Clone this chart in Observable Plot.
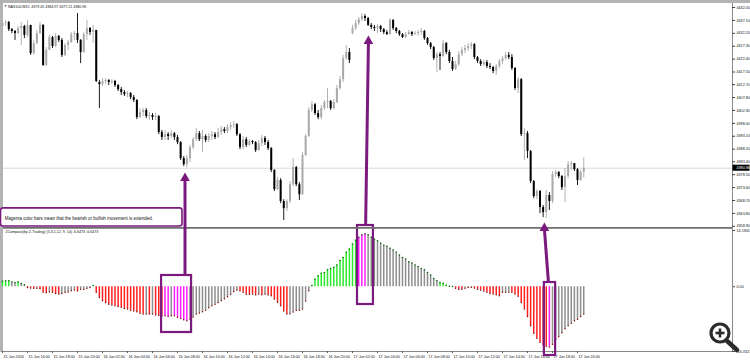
<!DOCTYPE html>
<html><head><meta charset="utf-8">
<script src="https://cdn.jsdelivr.net/npm/d3@7"></script>
<script src="https://cdn.jsdelivr.net/npm/@observablehq/plot@0.6"></script>
<style>
html,body{margin:0;padding:0;background:#fff;}
#wrap{position:relative;width:750px;height:362px;overflow:hidden;background:#fff;}
#wrap svg.plot-layer{position:absolute;left:0;}
#chromeTop{position:absolute;left:0;top:0;width:750px;height:3px;background:#b3b3b3;}
#chromeLeft{position:absolute;left:0;top:0;width:3px;height:352px;background:#b3b3b3;}
</style></head><body>
<div id="wrap"><div id="chromeTop"></div><div id="chromeLeft"></div></div>
<script>
// ---------- DATA (NAS100, M15) ----------
const symbolHeader = "NAS100,M15  4379.45 4384.97 4377.21 4380.96";
const opens = [4434.8,4435.9,4436.3,4433.6,4432.9,4432.1,4434.0,4434.8,4431.4,4435.2,
4424.5,4428.3,4432.1,4435.2,4420.0,4425.7,4430.6,4427.2,4431.0,4429.5,
4423.8,4427.6,4428.7,4431.7,4432.1,4429.5,4424.9,4431.7,4434.0,4432.5,
4433.3,4413.5,4412.7,4413.9,4414.3,4413.5,4413.9,4412.4,4410.8,4409.7,
4408.9,4409.3,4407.8,4406.7,4400.2,4402.1,4402.9,4400.6,4401.0,4400.2,
4400.6,4394.5,4392.6,4393.7,4393.0,4394.1,4392.6,4390.7,4384.6,4382.3,
4384.6,4388.8,4391.8,4394.1,4391.8,4393.0,4391.5,4393.0,4393.7,4392.6,
4394.5,4395.6,4394.9,4396.4,4397.2,4397.5,4393.7,4388.8,4391.8,4389.6,
4391.1,4390.7,4387.7,4390.3,4392.2,4390.7,4388.4,4380.1,4372.8,4376.3,
4368.3,4365.6,4368.3,4374.7,4381.2,4374.7,4370.9,4385.8,4393.0,4402.9,
4405.1,4401.7,4400.2,4403.6,4405.9,4406.3,4403.6,4405.9,4411.2,4414.6,
4422.6,4424.9,4432.1,4434.0,4435.9,4437.4,4438.6,4437.8,4435.2,4434.4,
4434.0,4434.8,4433.6,4432.5,4431.7,4437.1,4434.0,4432.9,4431.7,4430.6,
4431.7,4432.5,4431.7,4432.1,4432.5,4432.9,4430.2,4428.3,4426.8,4422.6,
4424.1,4423.4,4428.3,4424.9,4421.5,4418.4,4420.3,4424.1,4425.7,4426.4,
4427.2,4427.9,4423.0,4421.5,4420.3,4421.1,4419.6,4419.2,4417.7,4419.6,
4421.5,4422.6,4423.8,4423.0,4418.8,4411.2,4414.6,4393.7,4394.1,4387.3,
4375.9,4370.2,4372.1,4366.0,4364.1,4370.6,4368.3,4378.5,4379.3,4377.8,
4373.6,4377.8,4382.3,4382.7,4380.4,4376.3,4379.45];
const highs = [4437.1,4437.1,4436.7,4434.0,4433.3,4434.8,4436.3,4435.2,4437.1,4435.2,
4429.5,4433.3,4436.3,4435.5,4426.8,4431.4,4431.0,4432.1,4431.4,4430.2,
4428.3,4429.5,4432.5,4432.9,4439.7,4429.8,4432.5,4437.1,4434.4,4435.2,
4433.3,4414.3,4415.0,4415.0,4414.6,4414.6,4414.3,4412.7,4411.6,4410.5,
4410.1,4409.7,4408.6,4407.0,4403.6,4403.6,4403.6,4402.1,4401.7,4401.7,
4401.0,4395.3,4395.3,4394.5,4395.3,4394.5,4393.4,4391.1,4385.4,4385.8,
4389.6,4392.6,4396.0,4394.9,4395.3,4393.7,4394.1,4394.9,4394.5,4396.0,
4396.8,4396.4,4397.5,4398.3,4398.7,4397.9,4394.1,4393.0,4392.6,4391.8,
4391.5,4391.1,4391.5,4393.4,4393.0,4391.5,4388.8,4380.4,4377.4,4377.0,
4369.0,4369.0,4375.9,4384.6,4381.6,4375.5,4386.9,4393.7,4404.0,4406.3,
4405.5,4402.9,4404.8,4406.7,4411.2,4406.7,4407.0,4412.4,4415.8,4423.8,
4427.6,4426.4,4435.2,4437.1,4438.2,4439.7,4439.3,4438.2,4435.9,4435.2,
4435.5,4435.2,4434.0,4433.3,4437.8,4437.4,4434.4,4433.3,4432.1,4432.5,
4433.3,4432.9,4432.9,4433.3,4434.0,4433.3,4430.6,4428.7,4427.2,4424.9,
4424.9,4429.5,4428.7,4425.7,4423.0,4421.5,4425.3,4426.8,4427.6,4428.3,
4428.7,4428.3,4423.4,4422.2,4421.9,4421.9,4420.7,4419.6,4420.3,4422.2,
4423.4,4424.9,4424.9,4424.1,4419.2,4415.4,4415.0,4396.0,4394.9,4387.7,
4376.3,4372.8,4372.5,4366.8,4372.5,4371.7,4379.7,4380.1,4379.7,4378.2,
4380.8,4383.5,4383.5,4382.7,4380.8,4380.1,4384.97];
const lows = [4433.3,4434.8,4432.9,4432.1,4429.5,4431.7,4427.6,4430.2,4430.6,4423.8,
4423.8,4427.9,4431.7,4419.6,4419.6,4425.7,4426.4,4426.8,4428.7,4423.0,
4423.4,4425.7,4428.3,4429.5,4428.3,4420.7,4424.5,4429.5,4431.4,4428.3,
4413.5,4403.6,4412.0,4412.7,4412.4,4412.7,4411.6,4410.1,4408.6,4408.2,
4407.8,4407.0,4405.9,4399.4,4399.8,4400.6,4399.8,4399.1,4399.1,4399.1,
4393.7,4391.5,4391.5,4391.5,4392.2,4391.5,4389.9,4383.9,4381.6,4381.2,
4383.1,4388.0,4391.1,4391.1,4386.9,4390.7,4390.7,4391.5,4391.8,4392.2,
4393.4,4394.1,4394.1,4395.3,4396.0,4393.0,4388.0,4388.0,4388.8,4389.2,
4389.9,4386.9,4387.3,4389.2,4389.6,4387.7,4379.3,4372.1,4372.5,4367.5,
4361.1,4364.5,4367.5,4374.0,4374.0,4368.7,4370.6,4385.4,4392.6,4402.1,
4401.0,4399.4,4399.4,4402.9,4403.6,4402.9,4403.2,4405.5,4410.5,4413.5,
4421.9,4420.7,4431.7,4433.3,4435.2,4436.7,4436.7,4434.8,4433.6,4432.9,
4432.1,4432.5,4431.7,4431.4,4431.4,4433.3,4432.1,4431.0,4430.2,4430.2,
4431.4,4431.0,4431.4,4431.0,4431.4,4429.5,4427.6,4426.0,4421.9,4417.3,
4418.1,4423.0,4424.1,4420.7,4417.7,4418.1,4419.6,4423.4,4424.5,4425.3,
4426.0,4422.2,4420.7,4419.6,4419.6,4418.8,4418.4,4416.9,4416.2,4418.8,
4420.3,4421.9,4422.2,4418.1,4410.5,4409.3,4393.0,4383.9,4384.6,4375.1,
4369.4,4369.0,4363.7,4362.2,4361.8,4364.9,4367.5,4377.4,4377.0,4372.5,
4367.9,4377.0,4380.1,4379.7,4374.4,4375.9,4377.21];
const closes = [4435.9,4436.3,4433.6,4432.9,4432.1,4434.0,4434.8,4431.4,4435.2,4424.5,
4428.3,4432.1,4435.2,4420.0,4425.7,4430.6,4427.2,4431.0,4429.5,4423.8,
4427.6,4428.7,4431.7,4432.1,4429.5,4424.9,4431.7,4434.0,4432.5,4433.3,
4413.9,4412.7,4413.9,4414.3,4413.5,4413.9,4412.4,4410.8,4409.7,4408.9,
4409.3,4407.8,4406.7,4400.2,4402.1,4402.9,4400.6,4401.0,4400.2,4400.6,
4394.5,4392.6,4393.7,4393.0,4394.1,4392.6,4390.7,4384.6,4382.3,4384.6,
4388.8,4391.8,4394.1,4391.8,4393.0,4391.5,4393.0,4393.7,4392.6,4394.5,
4395.6,4394.9,4396.4,4397.2,4397.5,4393.7,4388.8,4391.8,4389.6,4391.1,
4390.7,4387.7,4390.3,4392.2,4390.7,4388.4,4380.1,4372.8,4376.3,4368.3,
4365.6,4368.3,4374.7,4381.2,4374.7,4370.9,4385.8,4393.0,4402.9,4405.1,
4401.7,4400.2,4403.6,4405.9,4406.3,4403.6,4405.9,4411.2,4414.6,4422.6,
4424.9,4421.9,4434.0,4435.9,4437.4,4438.6,4437.8,4435.2,4434.4,4434.0,
4434.8,4433.6,4432.5,4431.7,4437.1,4434.0,4432.9,4431.7,4430.6,4431.7,
4432.5,4431.7,4432.1,4432.5,4432.9,4430.2,4428.3,4426.8,4422.6,4424.1,
4423.4,4428.3,4424.9,4421.5,4418.4,4420.3,4424.1,4425.7,4426.4,4427.2,
4427.9,4423.0,4421.5,4420.3,4421.1,4419.6,4419.2,4417.7,4419.6,4421.5,
4422.6,4423.8,4423.0,4418.8,4411.2,4414.6,4393.7,4394.1,4387.3,4375.9,
4370.2,4372.1,4366.0,4364.1,4370.6,4368.3,4378.5,4379.3,4377.8,4373.6,
4377.8,4382.3,4382.7,4380.4,4376.3,4379.45,4380.96];
const bidPrice = 4380.96;
const priceTicks = [4442.00,4437.10,4432.20,4427.30,4422.40,4417.50,4412.70,4407.80,4402.90,4398.00,4393.10,4388.20,4383.40,4378.50,4373.60,4368.70,4363.80,4358.90];
const priceTickLabels = ["4442.00","4437.10","4432.20","4427.30","4422.40","4417.50","4412.70","4407.80","4402.90","4398.00","4393.10","4388.20","4383.40","4378.50","4373.60","4368.70","4363.80","4358.90"];

// Indicator histogram (ZCompass)
const indicatorHeader = "ZCompass(by Z-Trading) (5,3,1,12, 9, 14) -6.6473 -6.6473";
const histValues = [1.4,1.5,1.5,1.2,1.1,1.2,0.8,0.5,-0.2,-0.3,
-0.4,-0.4,-0.5,-1.4,-1.5,-1.3,-1.4,-1.7,-1.8,-1.7,
-1.4,-1.3,-1.0,-0.8,-1.0,-0.6,-0.6,-0.4,-0.2,0.3,
-1.4,-2.7,-3.5,-4.0,-4.4,-4.6,-4.8,-5.0,-5.2,-5.5,
-5.6,-5.9,-6.1,-6.3,-6.7,-6.9,-6.9,-6.9,-6.9,-7.1,
-7.2,-7.3,-7.3,-7.5,-7.3,-7.3,-7.7,-8.0,-8.3,-8.6,
-8.2,-7.6,-6.9,-6.6,-6.3,-5.9,-5.3,-4.8,-4.4,-4.0,
-3.5,-3.0,-2.5,-1.9,-1.2,-0.8,-1.0,-1.4,-1.9,-1.9,
-1.8,-2.0,-1.8,-2.0,-1.8,-2.0,-2.3,-3.1,-3.9,-4.8,
-6.1,-6.9,-6.8,-6.4,-5.9,-5.9,-5.6,-3.6,-1.0,0.3,
1.9,2.8,3.4,3.6,4.3,4.6,4.9,5.5,6.6,7.4,
8.7,9.5,10.8,11.7,12.5,13.1,13.4,13.1,12.5,12.0,
11.6,11.0,10.5,10.2,9.7,9.3,8.7,8.0,7.4,7.0,
6.3,6.0,5.5,5.1,4.6,4.3,3.6,2.95,2.1,1.5,
1.1,0.9,0.4,0.1,0.05,-0.4,-0.6,-0.6,-0.4,-0.2,
-0.1,-0.3,-0.6,-0.8,-1.1,-1.4,-1.7,-1.85,-2.0,-2.3,
-1.4,-1.4,-1.3,-1.4,-1.85,-2.4,-4.0,-5.6,-7.5,-9.85,
-11.7,-13.0,-14.0,-14.7,-15.0,-15.2,-14.5,-13.4,-12.6,-11.6,
-10.6,-9.85,-9.2,-8.6,-8.2,-7.5,-6.9];
// G = rising bull, R = falling bear, N = retracing, M = extended (magenta)
const histStates = "GGGNNGNNRR" + "RNRRRNRRRN" + "NNNNRNNNNG" + "RRRRRRRRRR" + "RRRRRRNRNR" +
  "RRMMNMMMMM" + "NNNNNNNNNN" + "NNNNNNRRRR" + "RRNRNRRRRR" + "RRNNNNNNNG" +
  "GGGGGGGGGG" + "GGGGMMMNNN" + "NNNNNNNNNN" + "NNNNNNNNNN" + "GGGNNRRRNN" +
  "NRRRRRRRRR" + "NNNRRRRRRR" + "RRRRRMNNNN" + "NNNNNNN";
const indTicks = [14.1905, 0, -16.3327];
const indTickLabels = ["14.1905", "0.00", "-16.3327"];

// Time axis (one label every 8 bars)
const timeLabelBars = [0,8,16,24,32,40,48,56,64,72,80,88,96,104,112,120,128,136,144,152,160,168,176,184];
const timeLabels = ["15 Jun 2016","15 Jun 16:00","15 Jun 18:00","15 Jun 20:00","16 Jun 02:00","16 Jun 04:00","16 Jun 06:00","16 Jun 08:00","16 Jun 10:00","16 Jun 12:00","16 Jun 14:00","16 Jun 16:00","16 Jun 18:00","16 Jun 20:00","17 Jun 02:00","17 Jun 04:00","17 Jun 06:00","17 Jun 08:00","17 Jun 10:00","17 Jun 12:00","17 Jun 14:00","17 Jun 16:00","17 Jun 18:00","17 Jun 20:00"];

// Annotations (bar index / price or indicator units)
const noteText = "Magenta color bars mean that the bearish or bullish movement is extended.";
const noteBox = [{x1: -0.48, x2: 57.6, y1: 4365.7, y2: 4358.8}];
const noteAnchor = [{x: 0.7, y: 4362.0}];
const arrowLines = [
  {x1: 58.4, y1: 4340.2, x2: 58.4, y2: 4377.6},
  {x1: 116.2, y1: 4359.2, x2: 117.1, y2: 4429.0},
  {x1: 174.7, y1: 4337.6, x2: 173.4, y2: 4358.0}
];
const arrowHeads = [{x: 58.4, y: 4377.2}, {x: 117.1, y: 4429.2}, {x: 173.4, y: 4358.2}];
const indBoxes = [
  {x1: 50.9, x2: 60.5, y1: 2.84, y2: -11.54},
  {x1: 113.6, x2: 118.7, y1: 15.45, y2: -4.48},
  {x1: 173.4, x2: 177.0, y1: 1.07, y2: -17.34}
];
const sepPrice = 4358.3;

// ---------- RENDER ----------
const purple = "#7a1a7e";
const FONT = "Liberation Sans, Arial, sans-serif";
const X_DOMAIN = [0.32, 233.6];
const stateColor = {G: "#2ee82e", R: "#ff1f1f", N: "#8e8e8e", M: "#ff1cff"};

const bars = d3.range(closes.length).map(i => ({
  i, o: opens[i], h: highs[i], l: lows[i], c: closes[i], up: closes[i] >= opens[i]
}));
const hist = d3.range(histValues.length).map(i => ({i, v: histValues[i], s: histStates[i]}));

const ind = Plot.plot({
  width: 750, height: 134,
  marginLeft: 3, marginRight: 18, marginTop: 0, marginBottom: 10,
  x: {domain: X_DOMAIN, axis: null},
  y: {domain: [-16.3327, 14.1905], range: [123, 2], axis: null},
  style: {background: "transparent", overflow: "visible", fontFamily: FONT},
  marks: [
    Plot.ruleX(hist, {x: "i", y1: 0, y2: "v", stroke: d => stateColor[d.s], strokeWidth: 1.5}),
    Plot.dot(hist, {x: "i", y: "v", r: 0.75, fill: d => d.v >= 0 ? "#0b6b0b" : "#7a0000", stroke: "none"}),
    Plot.ruleY([indTicks[2]], {stroke: "#8a8a8a", strokeWidth: 1}),
    Plot.ruleX(timeLabelBars, {x: d => d, y1: indTicks[2], y2: indTicks[2] - 0.5, stroke: "#555"}),
    Plot.text(timeLabelBars, {x: d => d, frameAnchor: "bottom", text: (d, i) => timeLabels[i],
      textAnchor: "start", lineAnchor: "top", dx: 1, dy: 2.5, fontSize: 3.7, fill: "#111"}),
    Plot.ruleY(indTicks, {x1: X_DOMAIN[1], x2: X_DOMAIN[1] + 1, stroke: "#444"}),
    Plot.text(indTicks, {x: X_DOMAIN[1], y: d => d, text: (d, i) => indTickLabels[i],
      textAnchor: "start", dx: 4, fontSize: 3.7, fill: "#111"}),
    Plot.text([indicatorHeader], {frameAnchor: "top-left", text: d => d, textAnchor: "start",
      lineAnchor: "top", dx: 2, dy: 1.5, fontSize: 3.6, fill: "#111"}),
    Plot.rect(indBoxes, {x1: "x1", x2: "x2", y1: "y1", y2: "y2", fill: "none", stroke: purple, strokeWidth: 2.2})
  ]
});

const main = Plot.plot({
  width: 750, height: 362,
  marginLeft: 3, marginRight: 18, marginTop: 3, marginBottom: 11,
  x: {domain: X_DOMAIN, axis: null},
  y: {domain: [4358.9, 4442.0], range: [225.8, 7], axis: null},
  style: {background: "transparent", overflow: "visible", fontFamily: FONT},
  marks: [
    Plot.ruleY([bidPrice], {stroke: "#d9d9d9", strokeWidth: 1}),
    Plot.ruleY([sepPrice], {stroke: "#6e6e6e", strokeWidth: 1.6}),
    Plot.ruleX([X_DOMAIN[1]], {stroke: "#8a8a8a", strokeWidth: 1}),
    Plot.ruleX(bars, {x: "i", y1: "l", y2: "h", stroke: d => d.up ? "#a9a9a9" : "#000000", strokeWidth: 0.9}),
    Plot.ruleX(bars, {x: "i", y1: "o", y2: "c", stroke: d => d.up ? "#a9a9a9" : "#000000", strokeWidth: 2}),
    Plot.ruleY(priceTicks, {x1: X_DOMAIN[1], x2: X_DOMAIN[1] + 1, stroke: "#444"}),
    Plot.text(priceTicks, {x: X_DOMAIN[1], y: d => d, text: (d, i) => priceTickLabels[i],
      textAnchor: "start", dx: 4, fontSize: 3.7, fill: "#111"}),
    Plot.rect([bidPrice], {x1: X_DOMAIN[1] + 0.15, x2: X_DOMAIN[1] + 5.6, y1: d => d - 1.15, y2: d => d + 1.15, fill: "#000"}),
    Plot.text([bidPrice], {x: X_DOMAIN[1], y: d => d, text: d => d.toFixed(2), textAnchor: "start", dx: 4, fontSize: 3.7, fill: "#fff"}),
    Plot.text(["\u25BC"], {frameAnchor: "top-left", text: d => d, textAnchor: "start", lineAnchor: "top", dx: 0.5, dy: 1.5, fontSize: 3, fill: "#222"}),
    Plot.text([symbolHeader], {frameAnchor: "top-left", text: d => d, textAnchor: "start", lineAnchor: "top", dx: 4.5, dy: 1.5, fontSize: 3.6, fill: "#111"}),
    Plot.rect(noteBox, {x1: "x1", x2: "x2", y1: "y1", y2: "y2", fill: "#fff", stroke: purple, strokeWidth: 1.6, rx: 2.5}),
    Plot.text(noteAnchor, {x: "x", y: "y", text: () => noteText, textAnchor: "start", fontSize: 4.45, fill: "#111"}),
    Plot.link(arrowLines, {x1: "x1", y1: "y1", x2: "x2", y2: "y2", stroke: purple, strokeWidth: 3}),
    Plot.dot(arrowHeads, {x: "x", y: "y", symbol: "triangle", r: 3.6, fill: purple, stroke: "none"})
  ]
});

const wrap = document.getElementById("wrap");
ind.classList.add("plot-layer");
main.classList.add("plot-layer");
ind.style.top = "228px";
main.style.top = "0px";
wrap.appendChild(ind);
wrap.appendChild(main);

// magnifier overlay of the original screenshot (UI decoration)
wrap.insertAdjacentHTML("beforeend",
  '<svg width="45" height="45" viewBox="0 0 45 45" style="position:absolute;left:700px;top:314px;">' +
  '<line x1="26" y1="26" x2="37" y2="36" stroke="#2b2b2b" stroke-width="4.5" stroke-linecap="round"/>' +
  '<circle cx="20" cy="19" r="9" fill="#fff" stroke="#2b2b2b" stroke-width="3.2"/>' +
  '<line x1="15.5" y1="19" x2="24.5" y2="19" stroke="#2b2b2b" stroke-width="2.6"/>' +
  '<line x1="20" y1="14.5" x2="20" y2="23.5" stroke="#2b2b2b" stroke-width="2.6"/></svg>');
</script>
</body></html>
